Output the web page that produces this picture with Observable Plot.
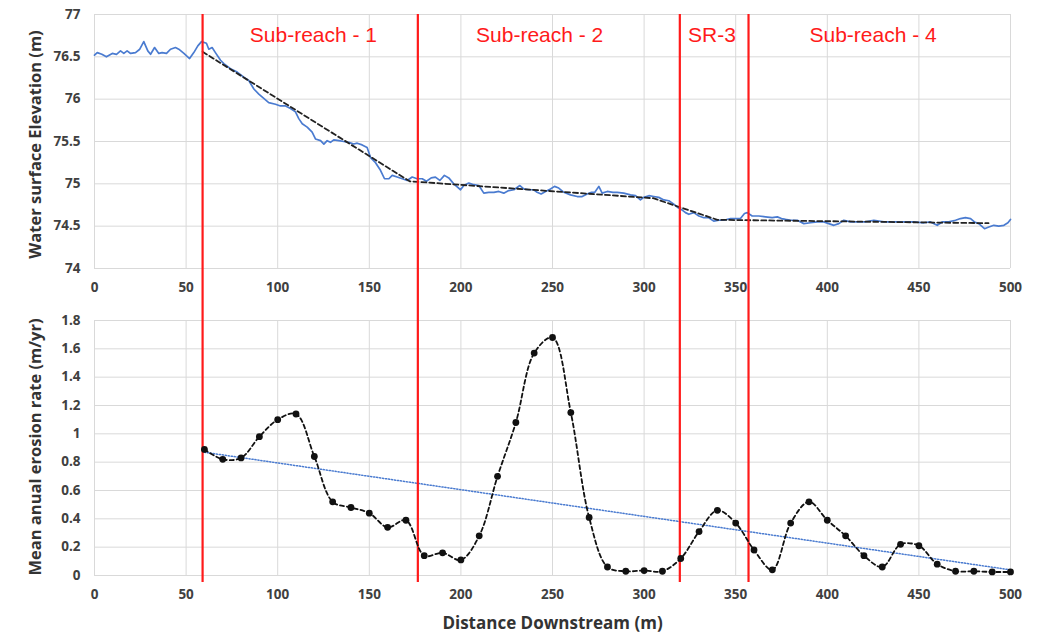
<!DOCTYPE html>
<html>
<head>
<meta charset="utf-8">
<script src="https://cdn.jsdelivr.net/npm/d3@7"></script>
<script src="https://cdn.jsdelivr.net/npm/@observablehq/plot@0.6"></script>
<style>
  html, body { margin: 0; padding: 0; background: #fff; }
  #chart svg { display: block; }
</style>
</head>
<body>
<div id="chart"></div>
<script>
// ---------- Data ----------
const profileDist = [0,1.5,4,6.5,9.7,12,14.2,16,17.8,19.7,22.4,24.7,26.9,29.1,30.6,32.8,35.1,36.9,39.3,41.5,44.2,46,48.8,51.9,54.2,56.4,58.4,61.1,62.4,64.2,66,68.8,70.6,74.2,77.9,81.5,84.2,87,89.7,92.4,95.1,98.8,101.5,104.3,107,109.7,111.5,113.4,116.1,118.8,120.6,123.4,125.2,127,128.8,130.6,133.4,136.1,138.8,141.5,143.4,146.1,148.8,150.7,153.4,156.1,158.3,160.7,162.5,165.2,168,170.7,173.4,176.1,178.9,181.2,183.8,186.1,188.5,191,193.4,196.1,199.8,201.6,204.3,207,209.8,212.5,215.2,218,220.7,223.4,226.1,228.9,232.2,234.3,237.1,239.8,241.6,243.8,246.2,248.9,251.1,253.4,256.2,259.8,263.5,266.2,268.9,271.3,273.1,275.3,277.1,279.9,283,285.3,288.9,292.6,295.3,298,299.8,302.6,305.3,308,310.8,313.5,316.2,318.4,320.8,322.6,324.4,327.1,329.9,332.6,335.3,338,340.8,343.5,347.2,349.9,352.6,354.8,356.3,359,362.6,366.3,369.9,372.7,375,377.2,379.9,383.6,387.2,390.8,394.5,398.1,400.8,403.6,406.3,409,412.7,416.3,420.9,425.4,430.9,436.3,441.8,447.2,452.7,456.3,460,462.7,466.3,470,472.7,475.4,478.2,480.3,482.7,485.8,488.2,490.9,493.6,496.4,498.6,500];
const profileElev = [76.52,76.55,76.53,76.50,76.54,76.53,76.57,76.54,76.57,76.54,76.55,76.59,76.68,76.57,76.53,76.61,76.54,76.55,76.54,76.59,76.61,76.59,76.54,76.48,76.55,76.63,76.68,76.66,76.59,76.61,76.55,76.46,76.42,76.36,76.32,76.26,76.22,76.12,76.06,76.01,75.96,75.94,75.92,75.92,75.89,75.85,75.77,75.71,75.67,75.61,75.53,75.51,75.47,75.51,75.49,75.52,75.51,75.50,75.49,75.47,75.48,75.46,75.43,75.31,75.25,75.16,75.06,75.06,75.10,75.08,75.06,75.04,75.08,75.06,75.06,75.03,75.07,75.08,75.04,75.10,75.07,75.00,74.93,74.98,75.01,74.99,74.98,74.89,74.90,74.90,74.91,74.89,74.92,74.93,74.98,74.94,74.93,74.93,74.90,74.88,74.91,74.94,74.97,74.95,74.90,74.87,74.85,74.85,74.88,74.90,74.90,74.97,74.89,74.91,74.90,74.90,74.89,74.87,74.86,74.81,74.84,74.86,74.85,74.84,74.81,74.80,74.76,74.72,74.69,74.66,74.64,74.66,74.62,74.60,74.60,74.56,74.57,74.57,74.59,74.59,74.59,74.65,74.66,74.62,74.62,74.61,74.60,74.61,74.59,74.58,74.57,74.57,74.53,74.54,74.55,74.55,74.53,74.51,74.53,74.57,74.55,74.55,74.55,74.57,74.55,74.55,74.55,74.55,74.54,74.55,74.51,74.55,74.55,74.57,74.59,74.60,74.59,74.55,74.53,74.47,74.49,74.51,74.50,74.51,74.54,74.58];

// piecewise linear fit of the water surface (black dashed)
const fitDist = [59, 172, 305, 340, 488];
const fitElev = [76.56, 75.03, 74.83, 74.575, 74.535];

// erosion rate every 10 m
const erosionDist = [60,70,80,90,100,110,120,130,140,150,160,170,180,190,200,210,220,230,240,250,260,270,280,290,300,310,320,330,340,350,360,370,380,390,400,410,420,430,440,450,460,470,480,490,500];
const erosionRate = [0.89,0.82,0.83,0.98,1.10,1.14,0.84,0.52,0.48,0.44,0.34,0.39,0.14,0.16,0.11,0.28,0.70,1.08,1.57,1.68,1.15,0.41,0.06,0.03,0.035,0.03,0.12,0.31,0.46,0.37,0.18,0.04,0.37,0.52,0.39,0.28,0.14,0.06,0.22,0.21,0.08,0.03,0.03,0.025,0.025];

// linear trend of erosion rate (blue dotted)
const trendDist = [60, 500];
const trendRate = [0.87, 0.04];

// sub-reach boundaries and labels
const boundaries = [59, 176.5, 319.5, 357];
const reachLabels = ["Sub-reach - 1", "Sub-reach - 2", "SR-3", "Sub-reach - 4"];
const reachLabelDist = [119.5, 243, 337, 425];

// ticks
const xTicks = [0,50,100,150,200,250,300,350,400,450,500];
const elevTicks = [74,74.5,75,75.5,76,76.5,77];
const rateTicks = [0,0.2,0.4,0.6,0.8,1,1.2,1.4,1.6,1.8];

const xTitle = "Distance Downstream (m)";
const elevTitle = "Water surface Elevation (m)";
const rateTitle = "Mean anual erosion rate (m/yr)";

// ---------- Build ----------
const profile = profileDist.map((d, i) => ({x: d, y: profileElev[i]}));
const fit = fitDist.map((d, i) => ({x: d, y: fitElev[i]}));
const erosion = erosionDist.map((d, i) => ({x: d, y: erosionRate[i]}));
const trend = trendDist.map((d, i) => ({x: d, y: trendRate[i]}));
const labels = reachLabels.map((t, i) => ({x: reachLabelDist[i], t}));

const FONT = "'Open Sans', 'Liberation Sans', sans-serif";
const GRID = "#d9d9d9";
const TICK = "#404040";
const RED = "#ff1a1a";
const fmt = d => String(+d.toFixed(1));

const W = 1041, ML = 94, MR = 31;
const TFS = 13.5;

const topChart = Plot.plot({
  width: W, height: 300,
  marginLeft: ML, marginRight: MR, marginTop: 14, marginBottom: 32,
  style: {fontFamily: FONT, background: "#fff", overflow: "visible"},
  x: {domain: [0, 500]},
  y: {domain: [74, 77]},
  marks: [
    Plot.ruleY(elevTicks, {stroke: GRID, strokeWidth: 1}),
    Plot.ruleX(xTicks, {stroke: GRID, strokeWidth: 1}),
    Plot.line(profile, {x: "x", y: "y", stroke: "#4a7bd0", strokeWidth: 1.7}),
    Plot.line(fit, {x: "x", y: "y", stroke: "#222", strokeWidth: 1.8, strokeDasharray: "5,3"}),
    Plot.ruleX(boundaries, {stroke: RED, strokeWidth: 2.2, insetBottom: -32}),
    Plot.text(labels, {x: "x", text: "t", frameAnchor: "top", dy: 21, fill: RED,
      fontSize: 21, fontFamily: "'Liberation Sans', Arial, sans-serif", lineAnchor: "middle"}),
    Plot.axisX(xTicks, {tickSize: 0, tickPadding: 14, fontSize: TFS, fontWeight: "bold", fill: TICK, label: null}),
    Plot.axisY(elevTicks, {tickSize: 0, tickPadding: 14, fontSize: TFS, fontWeight: "bold", fill: TICK, label: null, tickFormat: fmt}),
    Plot.text([elevTitle], {frameAnchor: "left", dx: -59, dy: 3, rotate: -90, textAnchor: "middle", fontSize: 16.5, fontWeight: "bold", fill: "#333", lineAnchor: "middle"})
  ]
});

const bottomChart = Plot.plot({
  width: W, height: 335,
  marginLeft: ML, marginRight: MR, marginTop: 20, marginBottom: 60,
  style: {fontFamily: FONT, background: "#fff", overflow: "visible"},
  x: {domain: [0, 500]},
  y: {domain: [0, 1.8]},
  marks: [
    Plot.ruleY(rateTicks, {stroke: GRID, strokeWidth: 1}),
    Plot.ruleX(xTicks, {stroke: GRID, strokeWidth: 1}),
    Plot.line(trend, {x: "x", y: "y", stroke: "#4a7bd0", strokeWidth: 1.5, strokeDasharray: "1.2,1.8"}),
    Plot.ruleX(boundaries, {stroke: RED, strokeWidth: 2.2, insetTop: -20, insetBottom: -7}),
    Plot.line(erosion, {x: "x", y: "y", stroke: "#111", strokeWidth: 1.8, strokeDasharray: "4,3", curve: "catmull-rom"}),
    Plot.dot(erosion, {x: "x", y: "y", r: 3.4, fill: "#111", stroke: "none"}),
    Plot.axisX(xTicks, {tickSize: 0, tickPadding: 14, fontSize: TFS, fontWeight: "bold", fill: TICK, label: null}),
    Plot.axisY(rateTicks, {tickSize: 0, tickPadding: 14, fontSize: TFS, fontWeight: "bold", fill: TICK, label: null, tickFormat: fmt}),
    Plot.text([rateTitle], {frameAnchor: "left", dx: -59, dy: -1, rotate: -90, textAnchor: "middle", fontSize: 16.5, fontWeight: "bold", fill: "#333", lineAnchor: "middle"}),
    Plot.text([xTitle], {frameAnchor: "bottom", dy: 48, fontSize: 17, fontWeight: "bold", fill: "#333", lineAnchor: "middle"})
  ]
});

const host = document.getElementById("chart");
host.appendChild(topChart);
host.appendChild(bottomChart);
</script>
</body>
</html>
